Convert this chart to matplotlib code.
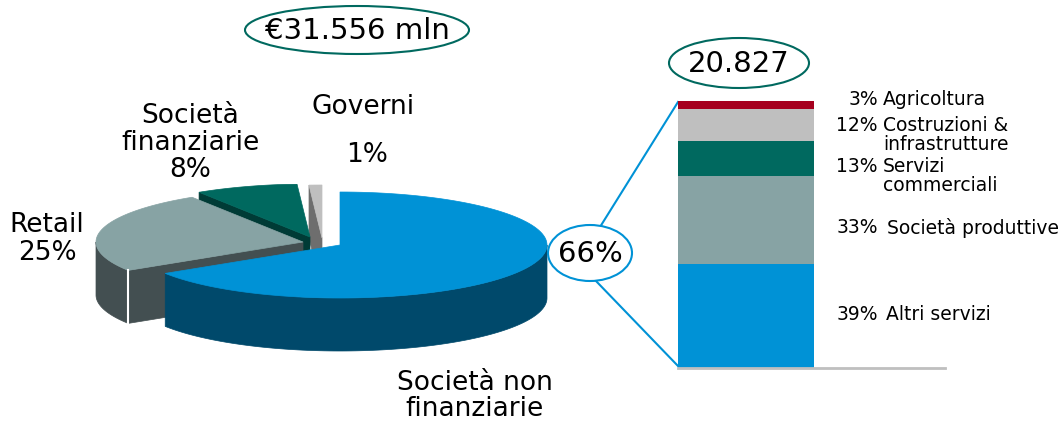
import numpy as np
import matplotlib
matplotlib.use('Agg')
import matplotlib.pyplot as plt
import matplotlib.patches as patches

# pie: loans by customer segment
pie_labels = ['Società non\nfinanziarie', 'Retail', 'Società\nfinanziarie', 'Governi']
pie_values = [66, 25, 8, 1]

# split of the "Società non finanziarie" slice
bar_labels = ['Altri servizi', 'Società produttive', 'Servizi\ncommerciali',
              'Costruzioni &\ninfrastrutture', 'Agricoltura']
bar_values = [39, 33, 13, 12, 3]

total_label = '€31.556 mln'
sub_total_label = '20.827'

# styles
pie_top = ['#0092D6', '#87A3A4', '#00695F', '#BFBFBF']
pie_side = ['#00496B', '#434F51', '#003B36', '#6E6E6E']
pie_shift = [(0, 0), (-37, -3), (-30, -8), (-18, -7)]   # explode, px
bar_colors = ['#0092D6', '#87A3A4', '#00695F', '#BFBFBF', '#A6001F']
label_dy = [-1, 8, 8, 0, -6]                              # px, down
label_dx = [3, 4, 0, 0, 0]                                # px, right
teal = '#00695F'
blue = '#0092D6'

W, H = 1060, 421
fig = plt.figure(figsize=(W / 100, H / 100), dpi=100)
ax = fig.add_axes([0, 0, 1, 1])
ax.set_xlim(0, W)
ax.set_ylim(H, 0)
ax.axis('off')

# ---- 3D pie, drawn by hand ----
cx, cy, ra, rb, depth = 340, 245, 207, 53, 53
# the plot area cuts the back of the pie
clip = patches.Rectangle((0, 184), W, H, transform=ax.transData, visible=False)
ax.add_patch(clip)


def pt(t, off, z=0):
    return (cx + off[0] + ra * np.cos(np.radians(t)),
            cy + off[1] - rb * np.sin(np.radians(t)) + z)


def arc(t1, t2, off, z=0, n=120):
    ts = np.linspace(t1, t2, n)
    return [pt(t, off, z) for t in ts]


def add(poly, c):
    p = patches.Polygon(poly, closed=True, fc=c, ec=c, lw=0.5)
    ax.add_patch(p)
    p.set_clip_path(clip)


cum = np.concatenate([[0], np.cumsum(pie_values)]) / np.sum(pie_values) * 360
slices = []
for i in range(len(pie_values)):
    t1 = 90 - cum[i]       # counter-clockwise edge
    t2 = 90 - cum[i + 1]   # clockwise edge
    slices.append((t1, t2))

mid_sin = [np.sin(np.radians((s[0] + s[1]) / 2)) for s in slices]
order = np.argsort(mid_sin)[::-1]   # back first

for i in order:
    t1, t2 = slices[i]
    off = pie_shift[i]
    apex = (cx + off[0], cy + off[1])
    apex_b = (apex[0], apex[1] + depth)
    face1 = np.cos(np.radians(t1)) < -1e-9
    # radial faces
    if face1:
        p = pt(t1, off)
        add([apex, p, (p[0], p[1] + depth), apex_b], pie_side[i])
    if np.cos(np.radians(t2)) > 1e-9:
        p = pt(t2, off)
        add([apex, p, (p[0], p[1] + depth), apex_b], pie_side[i])
    # outer wall on the front half
    for k in (-1, 0, 1):
        lo = max(t2, -180 + 360 * k)
        hi = min(t1, 360 * k)
        if hi > lo:
            add(arc(lo, hi, off) + arc(hi, lo, off, depth), pie_side[i])
            if face1 and hi == t1:
                p = pt(t1, off)
                ax.plot([p[0], p[0]], [p[1], p[1] + depth], color='white', lw=1.5)
    # top face
    add([apex] + arc(t1, t2, off), pie_top[i])

# pie labels
fs = 19
ax.text(475, 396, pie_labels[0], ha='center', va='center', fontsize=fs, linespacing=1.05)
ax.text(47, 239, f'{pie_labels[1]}\n{pie_values[1]}%', ha='center', va='center',
        fontsize=fs, linespacing=1.05)
ax.text(190, 143, f'{pie_labels[2]}\n{pie_values[2]}%', ha='center', va='center',
        fontsize=fs, linespacing=1.05)
ax.text(363, 107, pie_labels[3], ha='center', va='center', fontsize=fs)
ax.text(367, 155, f'{pie_values[3]}%', ha='center', va='center', fontsize=fs)

# ellipses with totals
ax.add_patch(patches.Ellipse((357, 30), 224, 48, fill=False, ec=teal, lw=1.5))
ax.text(357, 31, total_label, ha='center', va='center', fontsize=21)
ax.add_patch(patches.Ellipse((739, 63), 140, 50, fill=False, ec=teal, lw=1.5))
ax.text(739, 64, sub_total_label, ha='center', va='center', fontsize=21)

# connector lines to the bar
ax.plot([600, 678], [227, 102], color=blue, lw=1.5)
ax.plot([596, 678], [281, 366], color=blue, lw=1.5)
ax.add_patch(patches.Ellipse((590, 253), 84, 56, fc='white', ec=blue, lw=1.5, zorder=3))
ax.text(590, 254, f'{pie_values[0]}%', ha='center', va='center', fontsize=21, zorder=4)

# ---- stacked bar ----
bx0, bx1, by0, by1 = 678, 945, 101, 368
axb = fig.add_axes([bx0 / W, (H - by1) / H, (bx1 - bx0) / W, (by1 - by0) / H])
axb.set_xlim(0, 1)
axb.set_ylim(0, 100)
bw = 136 / (bx1 - bx0)
bottom = 0
for i, v in enumerate(bar_values):
    axb.bar(0, v, width=bw, bottom=bottom, align='edge', color=bar_colors[i], lw=0)
    yc = bottom + v / 2
    oy = 6.8 - label_dy[i] * 0.72
    axb.annotate(f'{v}%', xy=(0.749, yc), xycoords=axb.get_yaxis_transform(),
                 xytext=(0, oy), textcoords='offset points', ha='right', va='top',
                 fontsize=13.5, annotation_clip=False)
    axb.annotate(bar_labels[i], xy=(0.768, yc), xycoords=axb.get_yaxis_transform(),
                 xytext=(label_dx[i] * 0.72, oy), textcoords='offset points',
                 ha='left', va='top', fontsize=13.5, linespacing=1.0,
                 annotation_clip=False)
    bottom += v
for s in ['top', 'right', 'left']:
    axb.spines[s].set_visible(False)
axb.spines['bottom'].set_color('#BFBFBF')
axb.spines['bottom'].set_linewidth(2)
axb.set_xticks([])
axb.set_yticks([])
axb.patch.set_alpha(0)

fig.savefig('out.png', dpi=100)
